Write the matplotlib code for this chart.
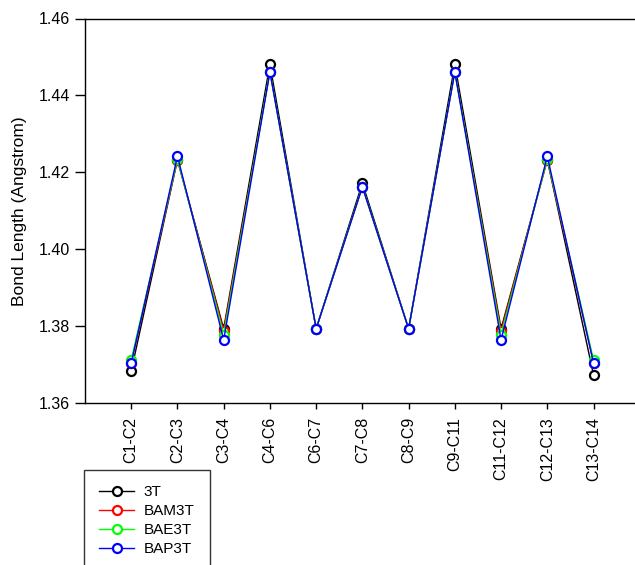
import matplotlib
matplotlib.use("Agg")
import matplotlib.pyplot as plt

plt.rcParams['font.family'] = ['Liberation Sans', 'DejaVu Sans']

bonds = ["C1-C2", "C2-C3", "C3-C4", "C4-C6", "C6-C7", "C7-C8", "C8-C9",
         "C9-C11", "C11-C12", "C12-C13", "C13-C14"]
s_3T = [1.3683, 1.4233, 1.3793, 1.4481, 1.3793, 1.4172, 1.3793, 1.4481, 1.3793, 1.4233, 1.3673]
s_BAM3T = [1.3705, 1.4232, 1.3788, 1.4462, 1.3793, 1.4163, 1.3793, 1.4462, 1.3788, 1.4232, 1.3705]
s_BAE3T = [1.3712, 1.4235, 1.3778, 1.4462, 1.3793, 1.4163, 1.3793, 1.4462, 1.3778, 1.4235, 1.3712]
s_BAP3T = [1.3704, 1.4242, 1.3764, 1.4461, 1.3793, 1.4162, 1.3793, 1.4461, 1.3764, 1.4242, 1.3704]
series = [("3T", s_3T, "#000000"), ("BAM3T", s_BAM3T, "#ff0000"),
          ("BAE3T", s_BAE3T, "#00ff00"), ("BAP3T", s_BAP3T, "#0000ff")]
yticks = [1.36, 1.38, 1.40, 1.42, 1.44, 1.46]

W, H = 635, 565
fig = plt.figure(figsize=(W / 100, H / 100), dpi=100)
ax = fig.add_axes([85 / W, (H - 403) / H, 564 / W, 384.5 / H])

x = list(range(len(bonds)))
for name, vals, col in series:
    ax.plot(x, vals, color=col, lw=1.0, marker='o', markersize=6.5,
            markerfacecolor='white', markeredgecolor=col, markeredgewidth=1.6,
            label=name)

ax.set_xlim(-1, 11.2)
ax.set_ylim(1.36, 1.46)
ax.set_yticks(yticks)
ax.set_yticklabels([f"{v:.2f}" for v in yticks])
ax.set_xticks(x)
ax.set_xticklabels(bonds, rotation=90)
ax.tick_params(axis='y', direction='out', length=7, width=1, labelsize=11.5, pad=4)
ax.tick_params(axis='x', direction='out', length=4, width=1, labelsize=11.5, pad=6)
for sp in ax.spines.values():
    sp.set_linewidth(1.0)
ax.spines['right'].set_visible(False)
ax.set_ylabel("Bond Length (Angstrom)", fontsize=12.5, labelpad=8)

leg = fig.legend(loc='upper left', bbox_to_anchor=(84 / W, 1 - 470 / H),
                 bbox_transform=fig.transFigure, frameon=True, fancybox=False,
                 edgecolor='black', fontsize=11, handlelength=2.3,
                 handletextpad=0.6, borderpad=1.0, labelspacing=0.32,
                 borderaxespad=0)
leg.get_frame().set_linewidth(1.0)

fig.savefig("out.png", dpi=100)
